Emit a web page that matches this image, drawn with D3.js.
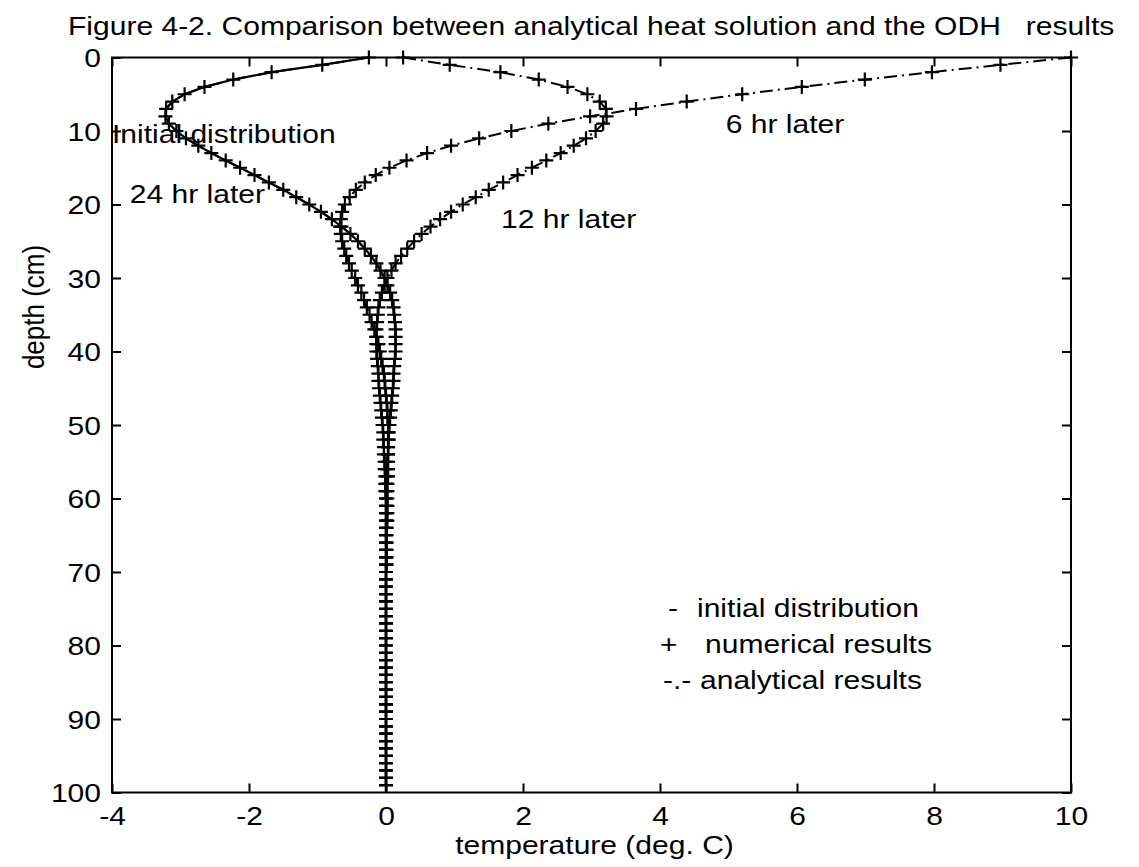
<!DOCTYPE html>
<html><head><meta charset="utf-8">
<script src="https://cdn.jsdelivr.net/npm/d3@7"></script>
<style>
body{margin:0;background:#fff}
text{font-family:"Liberation Sans",Arial,Helvetica,sans-serif;fill:#000}
</style>
</head><body>
<svg id="chart" width="1139" height="867"></svg>
<script>
// depth (cm) of every grid point
const depths = [0,1,2,3,4,5,6,7,8,9,10,11,12,13,14,15,16,17,18,19,20,21,22,23,24,25,26,27,28,29,30,31,32,33,34,35,36,37,38,39,40,41,42,43,44,45,46,47,48,49,50,51,52,53,54,55,56,57,58,59,60,61,62,63,64,65,66,67,68,69,70,71,72,73,74,75,76,77,78,79,80,81,82,83,84,85,86,87,88,89,90,91,92,93,94,95,96,97,98,99];
// initial distribution (solid line), deg C
const initialT = [-0.25,-0.93,-1.67,-2.23,-2.65,-2.94,-3.12,-3.21,-3.22,-3.17,-3.06,-2.92,-2.74,-2.55,-2.34,-2.13,-1.92,-1.71,-1.50,-1.31,-1.12,-0.95,-0.79,-0.65,-0.52,-0.41,-0.31,-0.22,-0.14,-0.08,-0.02,0.02,0.06,0.09,0.11,0.12,0.13,0.14,0.14,0.14,0.14,0.13,0.12,0.11,0.11,0.10,0.09,0.08,0.07,0.06,0.05,0.04,0.04,0.03,0.03,0.02,0.02,0.01,0.01,0.01,0,0,0,0,0,0,0,0,0,0,0,0,0,0,0,0,0,0,0,0,0,0,0,0,0,0,0,0,0,0,0,0,0,0,0,0,0,0,0,0];
// 6 hr later
const hr6T = [10,8.97,7.97,6.99,6.07,5.20,4.39,3.65,2.98,2.37,1.83,1.36,0.95,0.60,0.30,0.05,-0.15,-0.31,-0.44,-0.53,-0.60,-0.64,-0.66,-0.67,-0.66,-0.64,-0.61,-0.58,-0.54,-0.50,-0.45,-0.41,-0.36,-0.32,-0.28,-0.24,-0.21,-0.17,-0.14,-0.11,-0.09,-0.07,-0.05,-0.03,-0.02,-0.01,0.00,0.01,0.02,0.02,0.03,0.03,0.03,0.03,0.03,0.03,0.03,0.03,0.02,0.02,0.02,0.02,0.02,0.02,0.01,0.01,0.01,0.01,0.01,0.01,0,0,0,0,0,0,0,0,0,0,0,0,0,0,0,0,0,0,0,0,0,0,0,0,0,0,0,0,0,0];
// 12 hr later
const hr12T = [0.25,0.93,1.67,2.23,2.65,2.94,3.12,3.21,3.22,3.17,3.06,2.92,2.74,2.55,2.34,2.13,1.92,1.71,1.50,1.31,1.12,0.95,0.79,0.65,0.52,0.41,0.31,0.22,0.14,0.08,0.02,-0.02,-0.06,-0.09,-0.11,-0.12,-0.13,-0.14,-0.14,-0.14,-0.14,-0.13,-0.12,-0.11,-0.11,-0.10,-0.09,-0.08,-0.07,-0.06,-0.05,-0.04,-0.04,-0.03,-0.03,-0.02,-0.02,-0.01,-0.01,-0.01,0,0,0,0,0,0,0,0,0,0,0,0,0,0,0,0,0,0,0,0,0,0,0,0,0,0,0,0,0,0,0,0,0,0,0,0,0,0,0,0];
// 24 hr later (numerical, back to the initial profile)
const hr24T = [-0.25,-0.93,-1.67,-2.23,-2.65,-2.94,-3.12,-3.21,-3.22,-3.17,-3.06,-2.92,-2.74,-2.55,-2.34,-2.13,-1.92,-1.71,-1.50,-1.31,-1.12,-0.95,-0.79,-0.65,-0.52,-0.41,-0.31,-0.22,-0.14,-0.08,-0.02,0.02,0.06,0.09,0.11,0.12,0.13,0.14,0.14,0.14,0.14,0.13,0.12,0.11,0.11,0.10,0.09,0.08,0.07,0.06,0.05,0.04,0.04,0.03,0.03,0.02,0.02,0.01,0.01,0.01,0,0,0,0,0,0,0,0,0,0,0,0,0,0,0,0,0,0,0,0,0,0,0,0,0,0,0,0,0,0,0,0,0,0,0,0,0,0,0,0];

const xTicks = [-4,-2,0,2,4,6,8,10];
const yTicks = [0,10,20,30,40,50,60,70,80,90,100];
const titleText = "Figure 4-2. Comparison between analytical heat solution and the ODH   results";
const xLabel = "temperature (deg. C)";
const yLabel = "depth (cm)";
const curveLabels = [
  {text:"Initial distribution", t:-4.0, z:11.6},
  {text:"24 hr later", t:-3.74, z:19.8},
  {text:"12 hr later", t:1.68, z:23.2},
  {text:"6 hr later", t:4.96, z:10.3}
];
const legendSymbols = ["-", "+", "-.-"];
const legendTexts = ["initial distribution", "numerical results", "analytical results"];

const L=112, R=1071, T=57.5, B=792.5;
const FS = 26, SX = 1.155;   // scanned text is wider than it is tall
const svg = d3.select("#chart");
const x = d3.scaleLinear().domain([-4,10]).range([L,R]);
const y = d3.scaleLinear().domain([0,100]).range([T,B]);

function addText(px, py, str, anchor, extra){
  return svg.append("text")
    .attr("transform", `translate(${px},${py}) scale(${SX},1)` + (extra||""))
    .attr("text-anchor", anchor||"start")
    .attr("font-size", FS)
    .style("white-space","pre")
    .text(str);
}

// title
addText(68, 35, titleText);

// axes
const fmt = d => String(d);
const gB = svg.append("g").attr("transform",`translate(0,${B})`)
  .call(d3.axisBottom(x).tickValues(xTicks).tickSizeInner(-9).tickSizeOuter(0).tickFormat(fmt));
gB.selectAll("text").attr("y",null).attr("dy",null)
  .attr("transform",`translate(0,32.5) scale(${SX},1)`).attr("font-size",FS).attr("font-family",null);
const gT = svg.append("g").attr("transform",`translate(0,${T})`)
  .call(d3.axisTop(x).tickValues(xTicks).tickSizeInner(-9).tickSizeOuter(0).tickFormat(""));
const gL = svg.append("g").attr("transform",`translate(${L},0)`)
  .call(d3.axisLeft(y).tickValues(yTicks).tickSizeInner(-9).tickSizeOuter(0).tickFormat(fmt));
gL.selectAll("text").attr("x",null).attr("dy","0.36em")
  .attr("transform",`translate(-11,0) scale(${SX},1)`).attr("font-size",FS).attr("font-family",null);
const gR = svg.append("g").attr("transform",`translate(${R},0)`)
  .call(d3.axisRight(y).tickValues(yTicks).tickSizeInner(-9).tickSizeOuter(0).tickFormat(""));
[gB,gT,gL,gR].forEach(g=>{
  g.select(".domain").remove();
  g.selectAll(".tick line").attr("stroke","#000").attr("stroke-width",2);
  g.selectAll("text").attr("fill","#000");
});
svg.append("rect").attr("x",L).attr("y",T).attr("width",R-L).attr("height",B-T)
  .attr("fill","none").attr("stroke","#000").attr("stroke-width",2);

// axis labels
addText((L+R)/2+3, 854, xLabel, "middle");
svg.append("text").attr("transform",`translate(44,307) scale(${SX},1) rotate(-90)`)
  .attr("text-anchor","middle").attr("font-size",FS).text(yLabel);

// data
const mk = arr => depths.map((z,i)=>({z, t:arr[i]}));
const line = d3.line().x(d=>x(d.t)).y(d=>y(d.z));
const plot = svg.append("g");
// initial distribution: solid
plot.append("path").datum(mk(initialT)).attr("d",line).attr("fill","none").attr("stroke","#000").attr("stroke-width",2.2);
// analytical: dash-dot
[hr6T, hr12T, hr24T].forEach(arr=>{
  plot.append("path").datum(mk(arr)).attr("d",line).attr("fill","none").attr("stroke","#000")
    .attr("stroke-width",2).attr("stroke-dasharray","13,5,2,5");
});
// numerical: plus markers
[hr6T, hr12T, hr24T].forEach(arr=>{
  plot.selectAll(null).data(mk(arr)).join("path")
    .attr("transform",d=>`translate(${x(d.t)},${y(d.z)})`)
    .attr("d","M-7,0H7M0,-7V7").attr("stroke","#000").attr("stroke-width",2.2).attr("fill","none");
});

// curve labels
curveLabels.forEach(c=> addText(x(c.t), y(c.z), c.text));

// legend
const symX = [668, 660, 663], txtX = [697, 705, 700], legY = [617, 653, 689];
legendTexts.forEach((t,i)=>{
  addText(symX[i], legY[i], legendSymbols[i]);
  addText(txtX[i], legY[i], t);
});
</script>
</body></html>
